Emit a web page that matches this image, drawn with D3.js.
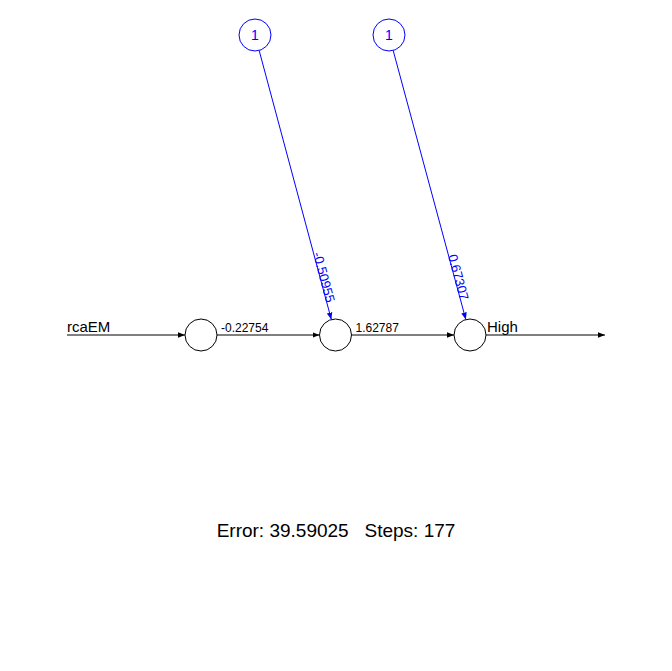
<!DOCTYPE html>
<meta charset="utf-8">
<style>
body { margin: 0; background: white; }
text { font-family: "Liberation Sans", Arial, sans-serif; }
</style>
<body>
<script src="https://d3js.org/d3.v7.min.js"></script>
<script>
// network layers: input, hidden, output
var layers = [0, 1, 2];
var inputLabel = "rcaEM";
var outputLabel = "High";
var weights = [-0.22754, 1.62787];      // layer i -> layer i+1
var biasWeights = [-0.50955, 0.67307];  // bias -> layer 1, layer 2
var errorValue = 39.59025, steps = 177;

var width = 672, height = 671, r = 16;
var x = d3.scaleLinear().domain([0, 2]).range([201, 470]);
var biasX = d3.scaleLinear().domain([1, 2]).range([255, 389]);
var y = d3.scaleLinear().domain([0, 1]).range([35, 335]); // 0 = bias row, 1 = main row

var svg = d3.select("body").append("svg").attr("width", width).attr("height", height);

function marker(id, col) {
  svg.append("defs").append("marker").attr("id", id)
    .attr("viewBox", "0 0 10 10").attr("refX", 10).attr("refY", 5)
    .attr("markerWidth", 7).attr("markerHeight", 7).attr("markerUnits", "userSpaceOnUse")
    .attr("orient", "auto")
    .append("path").attr("d", "M0,1L10,5L0,9Z").attr("fill", col);
}
marker("ab", "black");
marker("au", "blue");

function edge(x1, y1, x2, y2, col, m) {
  svg.append("line").attr("x1", x1).attr("y1", y1).attr("x2", x2).attr("y2", y2)
    .attr("stroke", col).attr("stroke-width", 1).attr("marker-end", "url(#" + m + ")");
}

var yMain = y(1);
// input edge
edge(67, yMain, x(0) - r, yMain, "black", "ab");
svg.append("text").attr("x", 67).attr("y", yMain - 3).attr("font-size", 15).text(inputLabel);
// output edge
edge(x(2) + r, yMain, 605, yMain, "black", "ab");
svg.append("text").attr("x", x(2) + r + 1).attr("y", yMain - 3).attr("font-size", 15).text(outputLabel);

// weight edges
weights.forEach(function(w, i) {
  edge(x(i) + r, yMain, x(i + 1) - r, yMain, "black", "ab");
  svg.append("text").attr("x", x(i) + r + 4).attr("y", yMain - 3)
    .attr("font-size", 12).text(w.toFixed(5));
});

// bias edges
biasWeights.forEach(function(w, i) {
  var l = i + 1;
  var x1 = biasX(l), y1 = y(0), x2 = x(l), y2 = yMain;
  var a = Math.atan2(y2 - y1, x2 - x1);
  var sx = x1 + r * Math.cos(a), sy = y1 + r * Math.sin(a);
  var ex = x2 - r * Math.cos(a), ey = y2 - r * Math.sin(a);
  edge(sx, sy, ex, ey, "blue", "au");
  var t = 0.85;
  var lx = sx + (ex - sx) * t, ly = sy + (ey - sy) * t;
  svg.append("text").attr("transform", "translate(" + (lx - 4) + "," + ly + ") rotate(" + (a * 180 / Math.PI) + ")")
    .attr("text-anchor", "middle").attr("dy", "-0.25em")
    .attr("font-size", 13).attr("fill", "blue").text(w.toFixed(5));
  svg.append("circle").attr("cx", x1).attr("cy", y1).attr("r", r)
    .attr("fill", "white").attr("stroke", "blue");
  svg.append("text").attr("x", x1).attr("y", y1 + 5).attr("text-anchor", "middle")
    .attr("font-size", 14).attr("fill", "blue").text("1");
});

// neurons
svg.selectAll(".node").data(layers).enter().append("circle")
  .attr("cx", function(d) { return x(d); }).attr("cy", yMain).attr("r", r)
  .attr("fill", "white").attr("stroke", "black");

svg.append("text").attr("x", 336).attr("y", 537).attr("text-anchor", "middle")
  .attr("font-size", 19).attr("xml:space", "preserve")
  .text("Error: " + errorValue + "   Steps: " + steps);
</script>
</body>
